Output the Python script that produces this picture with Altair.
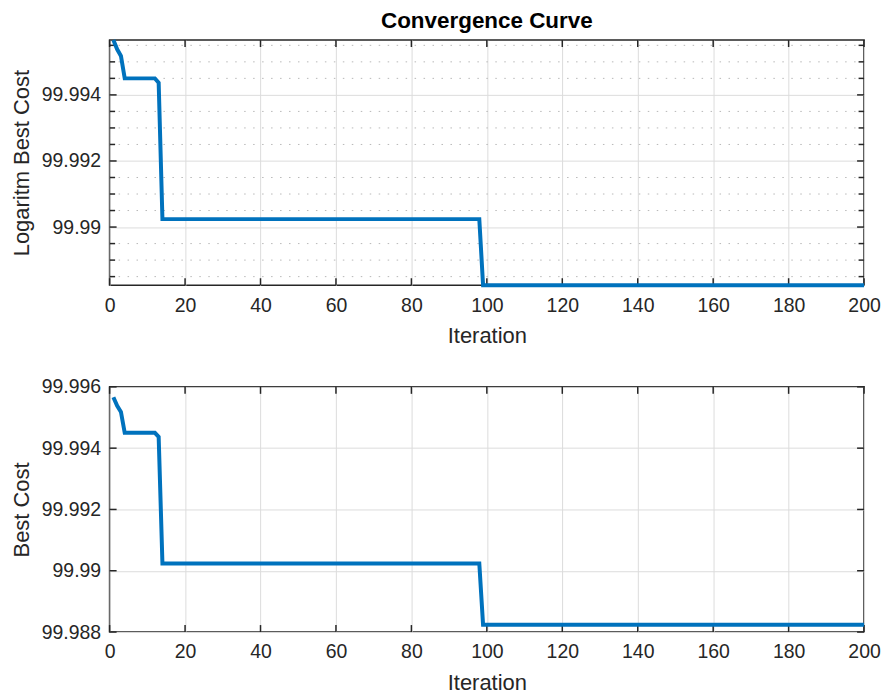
import altair as alt
import pandas as pd

# Best cost per iteration (points where the curve changes; flat runs between them)
iterations = [1, 2, 3, 4, 12, 13, 14, 98, 99, 200]
best_cost = [99.99566, 99.99538, 99.99518, 99.99450, 99.99450,
             99.99437, 99.99024, 99.99024, 99.98824, 99.98824]

x_ticks = [0, 20, 40, 60, 80, 100, 120, 140, 160, 180, 200]
top_major = [99.99, 99.992, 99.994]
top_minor = [99.9885, 99.989, 99.9895, 99.9905, 99.991, 99.9915,
             99.9925, 99.993, 99.9935, 99.9945, 99.995, 99.9955]
bottom_major = [99.988, 99.99, 99.992, 99.994, 99.996]

W, H = 757, 246
LINE_BLUE = "#0072BD"
AXIS_DARK = "#262626"
FONT = "Liberation Sans"

curve = pd.DataFrame({"iter": iterations, "cost": best_cost})
x_scale = alt.Scale(domain=[0, 200], nice=False)


def panel(y_scale, y_title, major, minor=None, title=None):
    x_axis = alt.Axis(values=x_ticks, title="Iteration", grid=True, ticks=False,
                      domain=False, labelFlush=False, labelPadding=11,
                      titlePadding=11, labelOverlap=False)
    y_axis = alt.Axis(values=major, title=y_title, grid=True, ticks=False,
                      domain=False, format=".3~f", labelPadding=9,
                      titlePadding=8, labelOverlap=False)

    def ye(field):
        return alt.Y(field, scale=y_scale, axis=y_axis)

    def xe(field):
        return alt.X(field, scale=x_scale, axis=x_axis)

    layers = []
    if minor:
        minor_df = pd.DataFrame({"v": minor})
        layers.append(
            alt.Chart(minor_df).mark_rule(color="#b8b8b8", strokeWidth=1,
                                          strokeDash=[1.5, 7.5]).encode(
                y=ye("v:Q"), x=alt.value(0), x2=alt.value(W))
        )

    # inward tick marks on all four sides of the box
    ytick_df = pd.DataFrame({"v": major})
    xtick_df = pd.DataFrame({"v": x_ticks})
    for x0, x1 in [(0, 7), (W - 7, W)]:
        layers.append(alt.Chart(ytick_df).mark_rule(color=AXIS_DARK, strokeWidth=1.5).encode(
            y=ye("v:Q"), x=alt.value(x0), x2=alt.value(x1)))
    if minor:
        for x0, x1 in [(0, 5.5), (W - 5.5, W)]:
            layers.append(alt.Chart(pd.DataFrame({"v": minor})).mark_rule(
                color=AXIS_DARK, strokeWidth=1.5).encode(
                y=ye("v:Q"), x=alt.value(x0), x2=alt.value(x1)))
    for y0, y1 in [(H - 7, H), (0, 7)]:
        layers.append(alt.Chart(xtick_df).mark_rule(color=AXIS_DARK, strokeWidth=1.5).encode(
            x=xe("v:Q"), y=alt.value(y0), y2=alt.value(y1)))

    layers.append(
        alt.Chart(curve).mark_line(color=LINE_BLUE, strokeWidth=4).encode(
            x=xe("iter:Q"), y=ye("cost:Q"))
    )
    props = dict(width=W, height=H)
    if title:
        props["title"] = alt.TitleParams(title, fontSize=22.5, fontWeight="bold",
                                         color="black", offset=0, font=FONT)
    return alt.layer(*layers).properties(**props)


cmin, cmax = min(best_cost), max(best_cost)
top = panel(alt.Scale(type="log", domain=[cmin, cmax], nice=False),
            "Logaritm Best Cost", top_major, top_minor, "Convergence Curve")
bottom = panel(alt.Scale(domain=[99.988, 99.996], nice=False, zero=False),
               "Best Cost", bottom_major)

chart = alt.vconcat(top, bottom, spacing=102, bounds="flush").properties(
    padding={"left": 9, "top": 7, "right": 0, "bottom": 0},
    background="white",
).configure_view(
    stroke=AXIS_DARK, strokeWidth=1.6
).configure_axis(
    labelFont=FONT, titleFont=FONT, labelFontSize=19.5, titleFontSize=22,
    titleFontWeight="normal", labelColor=AXIS_DARK, titleColor=AXIS_DARK,
    gridColor="#dcdcdc", gridWidth=1,
)

chart.save("out.html", embed_options={"renderer": "svg", "actions": False})
